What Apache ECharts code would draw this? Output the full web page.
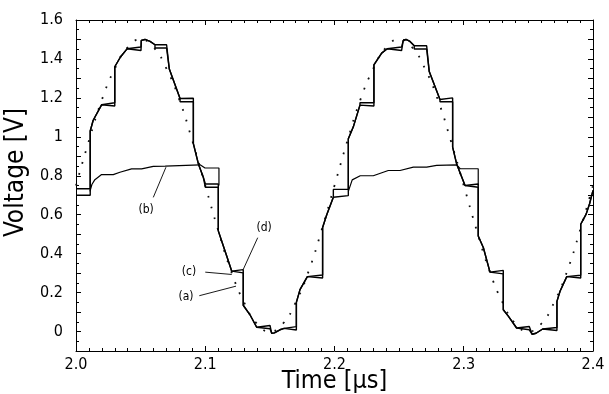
<!DOCTYPE html>
<html>
<head>
<meta charset="utf-8">
<script src="https://cdn.jsdelivr.net/npm/echarts@6/dist/echarts.min.js"></script>
<style>
  html, body { margin: 0; padding: 0; background: #fff; }
  #chart { width: 609px; height: 394px; }
</style>
</head>
<body>
<div id="chart"></div>
<script>
// (a) reference sine, drawn dotted
const sineA = [
  [2.00, 0.75], [2.01, 0.98], [2.02, 1.19], [2.03, 1.35], [2.04, 1.46], [2.05, 1.50],
  [2.06, 1.46], [2.07, 1.35], [2.08, 1.19], [2.09, 0.98], [2.10, 0.75], [2.11, 0.52],
  [2.12, 0.31], [2.13, 0.15], [2.14, 0.04], [2.15, 0.00], [2.16, 0.04], [2.17, 0.15],
  [2.18, 0.31], [2.19, 0.52], [2.20, 0.75], [2.21, 0.98], [2.22, 1.19], [2.23, 1.35],
  [2.24, 1.46], [2.25, 1.50], [2.26, 1.46], [2.27, 1.35], [2.28, 1.19], [2.29, 0.98],
  [2.30, 0.75], [2.31, 0.52], [2.32, 0.31], [2.33, 0.15], [2.34, 0.04], [2.35, 0.00],
  [2.36, 0.04], [2.37, 0.15], [2.38, 0.31], [2.39, 0.52], [2.40, 0.75]
];

// (b) clipped waveform, only where it leaves the stepped ones
const waveB = [
  [2.0108, 0.72], [2.0123, 0.755], [2.0146, 0.78], [2.0198, 0.806], [2.0288, 0.806],
  [2.0340, 0.818], [2.0430, 0.835], [2.0508, 0.835], [2.0598, 0.848], [2.0690, 0.849],
  [2.0960, 0.856], [2.0998, 0.84], [2.1106, 0.84], [2.1106, 0.75],
  [2.15, '-'],
  [2.2107, 0.72], [2.2137, 0.779], [2.2199, 0.80], [2.2300, 0.80], [2.2416, 0.827],
  [2.2507, 0.827], [2.2610, 0.844], [2.2713, 0.844], [2.2790, 0.853], [2.2946, 0.856],
  [2.2972, 0.836], [2.3112, 0.836], [2.3112, 0.75]
];

// (c) stepped waveform, lower edge of each hold
const stepC = [
  [2.0000, 0.700], [2.0110, 0.700], [2.0110, 1.030], [2.0133, 1.085], [2.0199, 1.165],
  [2.0199, 1.158], [2.0300, 1.158], [2.0300, 1.360], [2.0344, 1.410], [2.0395, 1.452],
  [2.0395, 1.443], [2.0503, 1.443], [2.0505, 1.495], [2.0534, 1.500], [2.0573, 1.490],
  [2.0611, 1.473], [2.0611, 1.456], [2.0701, 1.456], [2.0722, 1.348], [2.0805, 1.197],
  [2.0805, 1.180], [2.0908, 1.180], [2.0908, 0.965], [2.0947, 0.861], [2.0985, 0.792],
  [2.1001, 0.741], [2.1101, 0.741], [2.1101, 0.517], [2.1127, 0.465], [2.1166, 0.388],
  [2.1205, 0.310], [2.1205, 0.301], [2.1294, 0.301], [2.1294, 0.135], [2.1346, 0.086],
  [2.1398, 0.022], [2.1398, 0.014], [2.1501, 0.014], [2.1514, -0.009], [2.1535, -0.007],
  [2.1578, 0.009], [2.1610, 0.016], [2.1610, 0.008], [2.1705, 0.008], [2.1705, 0.150],
  [2.1733, 0.215], [2.1790, 0.282], [2.1790, 0.275], [2.1908, 0.275], [2.1908, 0.534],
  [2.1940, 0.600], [2.1991, 0.690], [2.1991, 0.698], [2.2107, 0.698], [2.2107, 0.990],
  [2.2145, 1.050], [2.2197, 1.163], [2.2197, 1.158], [2.2305, 1.158], [2.2305, 1.370],
  [2.2365, 1.430], [2.2408, 1.452], [2.2408, 1.443], [2.2519, 1.443], [2.2532, 1.495],
  [2.2553, 1.500], [2.2584, 1.490], [2.2617, 1.468], [2.2617, 1.451], [2.2713, 1.451],
  [2.2733, 1.335], [2.2816, 1.192], [2.2816, 1.180], [2.2914, 1.180], [2.2914, 0.947],
  [2.2945, 0.861], [2.3010, 0.750], [2.3010, 0.741], [2.3112, 0.741], [2.3112, 0.491],
  [2.3152, 0.430], [2.3203, 0.305], [2.3203, 0.296], [2.3306, 0.296], [2.3306, 0.112],
  [2.3346, 0.078], [2.3409, 0.018], [2.3409, 0.009], [2.3507, 0.009], [2.3529, -0.014],
  [2.3559, -0.009], [2.3611, 0.013], [2.3611, 0.005], [2.3721, 0.005], [2.3721, 0.155],
  [2.3745, 0.207], [2.3797, 0.282], [2.3797, 0.275], [2.3905, 0.275], [2.3905, 0.551],
  [2.3947, 0.603], [2.3973, 0.655], [2.4000, 0.725]
];

// (d) stepped waveform, upper edge of each hold
const stepD = [
  [2.0000, 0.733], [2.0110, 0.733], [2.0110, 1.030], [2.0133, 1.085], [2.0199, 1.165],
  [2.0199, 1.175], [2.0300, 1.175], [2.0300, 1.360], [2.0344, 1.410], [2.0395, 1.452],
  [2.0395, 1.461], [2.0503, 1.461], [2.0505, 1.495], [2.0534, 1.500], [2.0573, 1.490],
  [2.0611, 1.473], [2.0611, 1.473], [2.0701, 1.473], [2.0722, 1.348], [2.0805, 1.197],
  [2.0805, 1.198], [2.0908, 1.198], [2.0908, 0.965], [2.0947, 0.861], [2.0985, 0.792],
  [2.1001, 0.758], [2.1101, 0.758], [2.1101, 0.517], [2.1127, 0.465], [2.1166, 0.388],
  [2.1205, 0.310], [2.1205, 0.318], [2.1294, 0.318], [2.1294, 0.135], [2.1346, 0.086],
  [2.1398, 0.022], [2.1398, 0.031], [2.1501, 0.031], [2.1514, -0.009], [2.1535, -0.007],
  [2.1578, 0.009], [2.1610, 0.016], [2.1610, 0.025], [2.1705, 0.025], [2.1705, 0.150],
  [2.1733, 0.215], [2.1790, 0.282], [2.1790, 0.290], [2.1908, 0.290], [2.1908, 0.534],
  [2.1940, 0.600], [2.1991, 0.690], [2.1991, 0.730], [2.2107, 0.730], [2.2107, 0.990],
  [2.2145, 1.050], [2.2197, 1.163], [2.2197, 1.175], [2.2305, 1.175], [2.2305, 1.370],
  [2.2365, 1.430], [2.2408, 1.452], [2.2408, 1.461], [2.2519, 1.461], [2.2532, 1.495],
  [2.2553, 1.500], [2.2584, 1.490], [2.2617, 1.468], [2.2617, 1.468], [2.2713, 1.468],
  [2.2733, 1.335], [2.2816, 1.192], [2.2816, 1.200], [2.2914, 1.200], [2.2914, 0.947],
  [2.2945, 0.861], [2.3010, 0.750], [2.3010, 0.758], [2.3112, 0.758], [2.3112, 0.491],
  [2.3152, 0.430], [2.3203, 0.305], [2.3203, 0.314], [2.3306, 0.314], [2.3306, 0.112],
  [2.3346, 0.078], [2.3409, 0.018], [2.3409, 0.026], [2.3507, 0.026], [2.3529, -0.014],
  [2.3559, -0.009], [2.3611, 0.013], [2.3611, 0.021], [2.3721, 0.021], [2.3721, 0.155],
  [2.3745, 0.207], [2.3797, 0.282], [2.3797, 0.289], [2.3905, 0.289], [2.3905, 0.551],
  [2.3947, 0.603], [2.3973, 0.655], [2.4000, 0.725]
];

// curve labels: text position and leader line, in data units
const noteNames = ['(b)', '(c)', '(a)', '(d)'];
const notePos = [[2.0542, 0.625], [2.0874, 0.305], [2.0851, 0.176], [2.1455, 0.532]];
const noteFrom = [[2.0598, 0.689], [2.1000, 0.305], [2.0954, 0.184], [2.1406, 0.482]];
const noteTo = [[2.0696, 0.844], [2.1205, 0.293], [2.1238, 0.233], [2.1294, 0.319]];

const narrow = "'Liberation Sans Narrow', 'DejaVu Sans Condensed', 'Liberation Sans', sans-serif";

const chart = echarts.init(document.getElementById('chart'));

const frameAxis = {
  type: 'value',
  axisLine: { show: true, onZero: false, lineStyle: { color: '#000', width: 1 } },
  axisTick: { show: true, inside: true, length: 5, lineStyle: { color: '#000' } },
  minorTick: { show: true, length: 3, lineStyle: { color: '#000' } },
  splitLine: { show: false },
  minorSplitLine: { show: false }
};

chart.setOption({
  animation: false,
  backgroundColor: '#fff',
  grid: { left: 76, right: 16, top: 20, bottom: 43, outerBoundsMode: 'none', containLabel: false },
  xAxis: [
    {
      ...frameAxis,
      position: 'bottom',
      min: 2.0,
      max: 2.4,
      interval: 0.1,
      minorTick: { ...frameAxis.minorTick, splitNumber: 10 },
      axisLabel: {
        color: '#000',
        fontFamily: narrow,
        fontSize: 16,
        margin: 6,
        formatter: (v) => v.toFixed(1)
      },
      name: 'Time [µs]',
      nameLocation: 'middle',
      nameGap: 18,
      nameMoveOverlap: false,
      nameTextStyle: { color: '#000', fontFamily: narrow, fontSize: 25 }
    },
    {
      ...frameAxis,
      position: 'top',
      min: 2.0,
      max: 2.4,
      interval: 0.1,
      minorTick: { ...frameAxis.minorTick, splitNumber: 10 },
      axisLabel: { show: false }
    }
  ],
  yAxis: [
    {
      ...frameAxis,
      position: 'left',
      min: -0.1,
      max: 1.6,
      interval: 0.1,
      minorTick: { ...frameAxis.minorTick, splitNumber: 2 },
      axisLabel: {
        color: '#000',
        fontFamily: narrow,
        fontSize: 16,
        margin: 13,
        formatter: (v) => {
          const k = Math.round(v * 10);
          if (k < 0 || k % 2 !== 0) return '';
          return String(Number((k / 10).toFixed(1)));
        }
      },
      name: 'Voltage [V]',
      nameLocation: 'middle',
      nameGap: 46,
      nameTextStyle: { color: '#000', fontFamily: narrow, fontSize: 26, padding: [0, 0, 0, 26] }
    },
    {
      ...frameAxis,
      position: 'right',
      min: -0.1,
      max: 1.6,
      interval: 0.1,
      minorTick: { ...frameAxis.minorTick, splitNumber: 2 },
      axisLabel: { show: false }
    }
  ],
  series: [
    {
      name: '(a)',
      type: 'line',
      data: sineA,
      smooth: true,
      showSymbol: false,
      lineStyle: { color: '#111', width: 1.8, type: [1.8, 9.5] }
    },
    {
      name: '(b)',
      type: 'line',
      data: waveB,
      showSymbol: false,
      connectNulls: false,
      lineStyle: { color: '#000', width: 1.2 }
    },
    {
      name: '(c)',
      type: 'line',
      data: stepC,
      showSymbol: false,
      lineStyle: { color: '#000', width: 1.4 }
    },
    {
      name: '(d)',
      type: 'line',
      data: stepD,
      showSymbol: false,
      lineStyle: { color: '#000', width: 1.4 }
    }
  ]
});

// labels and leaders, placed through the axes
const px = (p) => chart.convertToPixel({ xAxisIndex: 0, yAxisIndex: 0 }, p);
const graphic = [];
noteNames.forEach((name, i) => {
  const a = px(noteFrom[i]);
  const b = px(noteTo[i]);
  const c = px(notePos[i]);
  graphic.push({
    type: 'line',
    shape: { x1: a[0], y1: a[1], x2: b[0], y2: b[1] },
    style: { stroke: '#000', lineWidth: 0.9 }
  });
  graphic.push({
    type: 'text',
    x: c[0],
    y: c[1],
    style: {
      text: name,
      fill: '#000',
      font: "12px 'DejaVu Sans Condensed', 'DejaVu Sans', sans-serif",
      align: 'center',
      verticalAlign: 'middle'
    }
  });
});
chart.setOption({ graphic });

window.addEventListener('resize', () => chart.resize());
</script>
</body>
</html>
